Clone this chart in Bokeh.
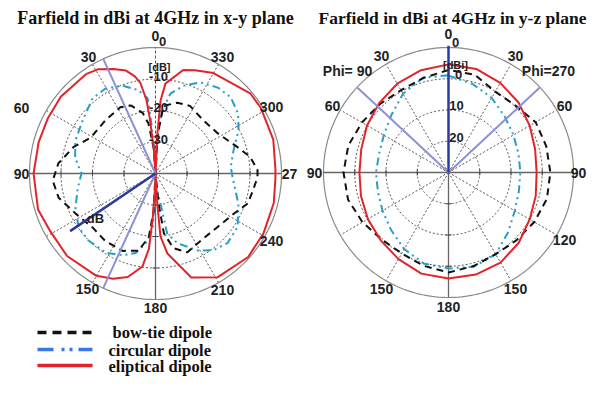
import numpy as np
from bokeh.plotting import figure
from bokeh.models import Range1d
from bokeh.core.properties import value
from bokeh.embed import file_html
from bokeh.resources import INLINE

# ---------------- data ----------------
titles = ["Farfield in dBi at 4GHz in x-y plane", "Farfield in dBi at 4GHz in y-z plane"]
legend_labels = ["bow-tie dipole", "circular dipole", "eliptical dipole"]

# x-y plane: angle in degrees (counter-clockwise from top), gain in dB (scale -40 .. 0)
xy_bow_ang = [0, 4, 8, 12, 20, 28, 43, 61, 72, 84, 94, 104, 117, 131, 143, 157, 167.5, 174, 177, 180,
              186, 188, 193.5, 202, 214, 229, 243, 252, 260, 268, 272, 280, 288, 303, 318, 333, 343, 353.3, 357, 360]
xy_bow_db = [-40, -32, -24, -20.3, -17, -16.2, -16.8, -16.5, -12.7, -9, -7.3, -8.3, -11.7, -13.7, -13.3, -13.3, -14.9, -19.7, -28, -40,
             -30, -20.8, -15.6, -13, -14.3, -14, -12, -9.2, -8.6, -7.6, -7.6, -9.5, -12.7, -16.5, -17.3, -15.9, -16.5, -18.4, -28, -40]

xy_circ_ang = [0, 2, 5, 6, 11.6, 20.5, 30.5, 40, 54, 67.6, 79, 90, 100, 113, 125, 135, 148, 158, 166, 172, 177, 179, 180,
               183, 189.5, 191, 197.5, 209, 217, 226, 237, 250, 267, 275, 286.4, 297.4, 306, 315.4, 324, 334, 342.4, 349.4, 354, 357, 360]
xy_circ_db = [-40, -34, -22, -16, -13, -10.2, -8.7, -8.9, -11.4, -12.5, -14, -16.5, -15, -12.4, -10.2, -9.9, -10.3, -12, -14, -17.6, -22, -33, -40,
              -36, -30, -20.6, -16.8, -12, -9.5, -8.2, -8.9, -12, -15.5, -16, -14.2, -10.3, -7.6, -6, -6.3, -7.8, -10.8, -14.2, -20, -30, -40]

xy_ellip_ang = [0, 4, 6, 7, 9.5, 12, 16, 22, 29, 35, 51, 63, 75, 90, 107, 119, 133, 150, 158, 165, 172, 175, 176.5, 178, 180,
                183, 183.5, 184.5, 188.5, 199, 211, 228, 241, 256, 267, 272, 286, 302, 310, 330, 339, 345, 353.7, 356, 357.5, 360]
xy_ellip_db = [-40, -32, -22, -16.5, -10.8, -8.5, -6, -4.2, -2.2, -1.5, -1.3, -1.6, -1.6, -1.3, -1.0, -1.9, -1.6, -2.5, -4, -6, -10.2, -16, -26, -35, -40,
               -34, -30, -20, -14.3, -5.1, -1.6, -0.4, -0.8, -1.3, -1.9, -1.9, -1.1, -0.6, -0.6, -3.2, -4.9, -6, -11.3, -16.8, -28, -40]

xy_guide_ang = [24.5, 155.5]      # light marker lines (to outer ring)
xy_guide_db = [0, 0]
xy_main_ang = [124]               # main lobe marker
xy_main_db = [-7.3]

xy_angle_labels = ["0", "30", "60", "90", "150", "180", "210", "240", "27", "300", "330"]
xy_angle_pos = [0, 30, 64, 90, 149.5, 180, 210, 240, 270, 300, 330]
xy_ring_db = [-30, -20, -10]
xy_ring_labels = ["-30", "-20", "-10"]

# y-z plane: theta in degrees, Phi=90 half (left) and Phi=270 half (right), gain in dBi (scale -30 .. +10)
yz_theta = [0, 15, 30, 45, 60, 75, 90, 105, 120, 135, 150, 165, 180]
yz_bow_phi90 = [2.8, 1.3, 0.4, 1.0, 2.0, 3.2, 3.6, 3.3, 1.8, 0.3, -0.1, 0.9, 2.0]
yz_bow_phi270 = [2.8, 2.4, -0.1, 0.3, 2.2, 2.4, 2.6, 2.6, 1.7, 0.7, 0.2, 1.0, 2.0]
yz_circ_phi90 = [1.1, 1.4, -0.9, -4.1, -6.1, -7.0, -6.8, -6.6, -5.6, -4.0, -1.7, 0.2, 0.7]
yz_circ_phi270 = [1.0, -0.6, -2.4, -4.6, -6.0, -6.8, -7.0, -6.7, -5.5, -3.0, 0.2, 1.2, 0.7]
yz_ellip_phi90 = [4.6, 3.9, 2.8, 1.4, 0.1, -1.1, -1.5, -1.0, -0.2, 0.7, 2.0, 3.5, 3.9]
yz_ellip_phi270 = [4.6, 4.3, 3.1, 1.7, 0.0, -1.3, -1.8, -1.1, 0.0, 1.8, 3.3, 3.8, 3.9]

yz_guide_ang = [47, 47]
yz_guide_db = [9.8, 9.8]
yz_main_ang = [0]
yz_main_db = [10.6]

yz_angle_labels_l = ["30", "60", "90", "150"]
yz_angle_pos_l = [30, 60, 90, 150]
yz_angle_labels_r = ["30", "60", "90", "120", "150"]
yz_angle_pos_r = [30, 60, 90, 120, 150]

# ---------------- styling ----------------
C_BOW = "#111111"
C_CIRC = "#2a9cc8"
C_CIRC_LEG = "#3a78e6"
C_ELL = "#e2232a"
C_DARK = "#2b3b9c"
C_LIGHT = "#8d90d6"
GRID = "#555555"
SANS = value("Liberation Sans")
SERIF = value("Liberation Serif")

LEFT = dict(cx=155.0, cy=173.0, R=126.0, lo=-40.0, hi=0.0)
RIGHT = dict(cx=448.0, cy=172.0, R=125.0, lo=-30.0, hi=10.0)

p = figure(width=590, height=378, x_range=Range1d(0, 590), y_range=Range1d(378, 0),
           output_backend="svg", toolbar_location=None, min_border=0,
           x_axis_location=None, y_axis_location=None)
p.xgrid.grid_line_color = None
p.ygrid.grid_line_color = None
p.outline_line_color = None
p.background_fill_color = "white"


def polar_xy(pn, ang, db, side=1.0):
    a = np.radians(np.asarray(ang, dtype=float))
    r = (np.asarray(db, dtype=float) - pn["lo"]) / (pn["hi"] - pn["lo"]) * pn["R"]
    return pn["cx"] - side * r * np.sin(a), pn["cy"] - r * np.cos(a)


def at(pn, ang, rad, side=1.0):
    a = np.radians(ang)
    return pn["cx"] - side * rad * np.sin(a), pn["cy"] - rad * np.cos(a)


def draw_grid(pn, top_dashed):
    cx, cy, R = pn["cx"], pn["cy"], pn["R"]
    t = np.linspace(0, 2 * np.pi, 241)
    for k in (1, 2, 3):
        r = R * k / 4
        p.line(cx + r * np.cos(t), cy + r * np.sin(t), line_color=GRID, line_width=1, line_dash="2 2")
    for a in (30, 60, 120, 150, 210, 240, 300, 330):
        x1, y1 = at(pn, a, R)
        p.line([cx, x1], [cy, y1], line_color=GRID, line_width=1, line_dash="2 2")
    p.line(cx + R * np.cos(t), cy + R * np.sin(t), line_color="#8a8a8a", line_width=1.2)
    p.line([cx - R, cx + R], [cy, cy], line_color="#666666", line_width=1.3)
    p.line([cx, cx], [cy, cy + R], line_color="#666666", line_width=1.3)
    if top_dashed:
        p.line([cx, cx], [cy, cy - R], line_color=GRID, line_width=1, line_dash="3 2")
    rr = [R * k / 4 for k in (1, 2, 3)]
    xs, ys = [], []
    for r in rr:
        xs += [[cx - r, cx - r], [cx + r, cx + r], [cx - 3, cx + 3]]
        ys += [[cy - 3, cy + 3], [cy - 3, cy + 3], [cy + r, cy + r]]
    p.multi_line(xs, ys, line_color="#444444", line_width=1)


def label(x, y, txt, size="14px", font=SANS, align="center", color="#222222", style="bold"):
    p.text(x=[x], y=[y], text=[txt], text_font=font, text_font_size=size, text_font_style=style,
           text_align=align, text_baseline="middle", text_color=color)


# ---------- left panel (x-y plane) ----------
draw_grid(LEFT, True)
for ang, db, col, dash in ((xy_circ_ang, xy_circ_db, C_CIRC, "8 4 2 4 2 4"),
                           (xy_bow_ang, xy_bow_db, C_BOW, "7 5"),
                           (xy_ellip_ang, xy_ellip_db, C_ELL, "solid")):
    x, y = polar_xy(LEFT, ang, db)
    p.line(x, y, line_color=col, line_width=2, line_dash=dash)

gx, gy = polar_xy(LEFT, xy_guide_ang, xy_guide_db)
for i in range(len(gx)):
    p.line([LEFT["cx"], gx[i]], [LEFT["cy"], gy[i]], line_color=C_LIGHT, line_width=2)
mx, my = polar_xy(LEFT, xy_main_ang, xy_main_db)
p.line([LEFT["cx"], mx[0]], [LEFT["cy"], my[0]], line_color=C_DARK, line_width=2.5)

left_r = {64: 149, 0: 138}
for txt, a in zip(xy_angle_labels, xy_angle_pos):
    x, y = at(LEFT, a, left_r.get(a, 134))
    label(x, y, txt)
for txt, d in zip(xy_ring_labels, xy_ring_db):
    r = (d - LEFT["lo"]) / (LEFT["hi"] - LEFT["lo"]) * LEFT["R"]
    label(LEFT["cx"] + 3, LEFT["cy"] - r - 3, txt, size="13px")
label(LEFT["cx"] + 7, LEFT["cy"] - LEFT["R"] - 6, "0", size="13px")
label(LEFT["cx"] + 4, LEFT["cy"] - 107, "[dB]", size="11px")
label(95, 218, "dB", size="13px")

# ---------- right panel (y-z plane) ----------
draw_grid(RIGHT, False)
for l, r_, col, dash in ((yz_circ_phi90, yz_circ_phi270, C_CIRC, "8 4 2 4 2 4"),
                         (yz_bow_phi90, yz_bow_phi270, C_BOW, "7 5"),
                         (yz_ellip_phi90, yz_ellip_phi270, C_ELL, "solid")):
    xl, yl = polar_xy(RIGHT, yz_theta, l, 1.0)
    xr, yr = polar_xy(RIGHT, yz_theta, r_, -1.0)
    x = np.concatenate([xl, xr[::-1]])
    y = np.concatenate([yl, yr[::-1]])
    p.line(x, y, line_color=col, line_width=2, line_dash=dash)

for side, a, d in ((1.0, yz_guide_ang[0], yz_guide_db[0]), (-1.0, yz_guide_ang[1], yz_guide_db[1])):
    gx, gy = polar_xy(RIGHT, [a], [d], side)
    p.line([RIGHT["cx"], gx[0]], [RIGHT["cy"], gy[0]], line_color=C_LIGHT, line_width=2)
mx, my = polar_xy(RIGHT, yz_main_ang, yz_main_db)
p.line([RIGHT["cx"], mx[0]], [RIGHT["cy"], my[0]], line_color=C_DARK, line_width=2.5)

x, y = at(RIGHT, 0, 139)
label(x, y, "0")
for txt, a in zip(yz_angle_labels_l, yz_angle_pos_l):
    x, y = at(RIGHT, a, 134, 1.0)
    label(x, y, txt)
for txt, a in zip(yz_angle_labels_r, yz_angle_pos_r):
    x, y = at(RIGHT, a, 130 if a == 90 else 134, -1.0)
    label(x, y, txt)
x, y = at(RIGHT, 180, 134)
label(x, y, "180")
label(347, 70, "Phi= 90")
label(548, 70, "Phi=270")
label(RIGHT["cx"] + 7, RIGHT["cy"] - 130, "0", size="13px")
label(RIGHT["cx"] + 7, RIGHT["cy"] - 108, "[dBi]", size="11px")
label(RIGHT["cx"] + 10, RIGHT["cy"] - 98, "0", size="13px")
label(RIGHT["cx"] + 8, RIGHT["cy"] - 67, "10", size="13px")
label(RIGHT["cx"] + 8, RIGHT["cy"] - 35, "20", size="13px")

# ---------- titles ----------
label(155, 17, titles[0], size="18px", font=SERIF, color="#111111")
label(452, 17, titles[1], size="17.5px", font=SERIF, color="#111111")

# ---------- legend ----------
leg_y = [332, 349, 365]
p.line([37, 92], [leg_y[0], leg_y[0]], line_color=C_BOW, line_width=3.5, line_dash="9 6")
p.line([37, 92], [leg_y[1], leg_y[1]], line_color=C_CIRC_LEG, line_width=3.5, line_dash="16 8 3 5 3 6")
p.line([37, 92], [leg_y[2], leg_y[2]], line_color=C_ELL, line_width=3.5)
label(112, leg_y[0], legend_labels[0], size="16.5px", font=SERIF, align="left", color="#111111")
label(108, leg_y[1] + 1, legend_labels[1], size="16.5px", font=SERIF, align="left", color="#111111")
label(108, leg_y[2] + 1, legend_labels[2], size="16.5px", font=SERIF, align="left", color="#111111")

open("out.html", "w").write(file_html(p, INLINE))
